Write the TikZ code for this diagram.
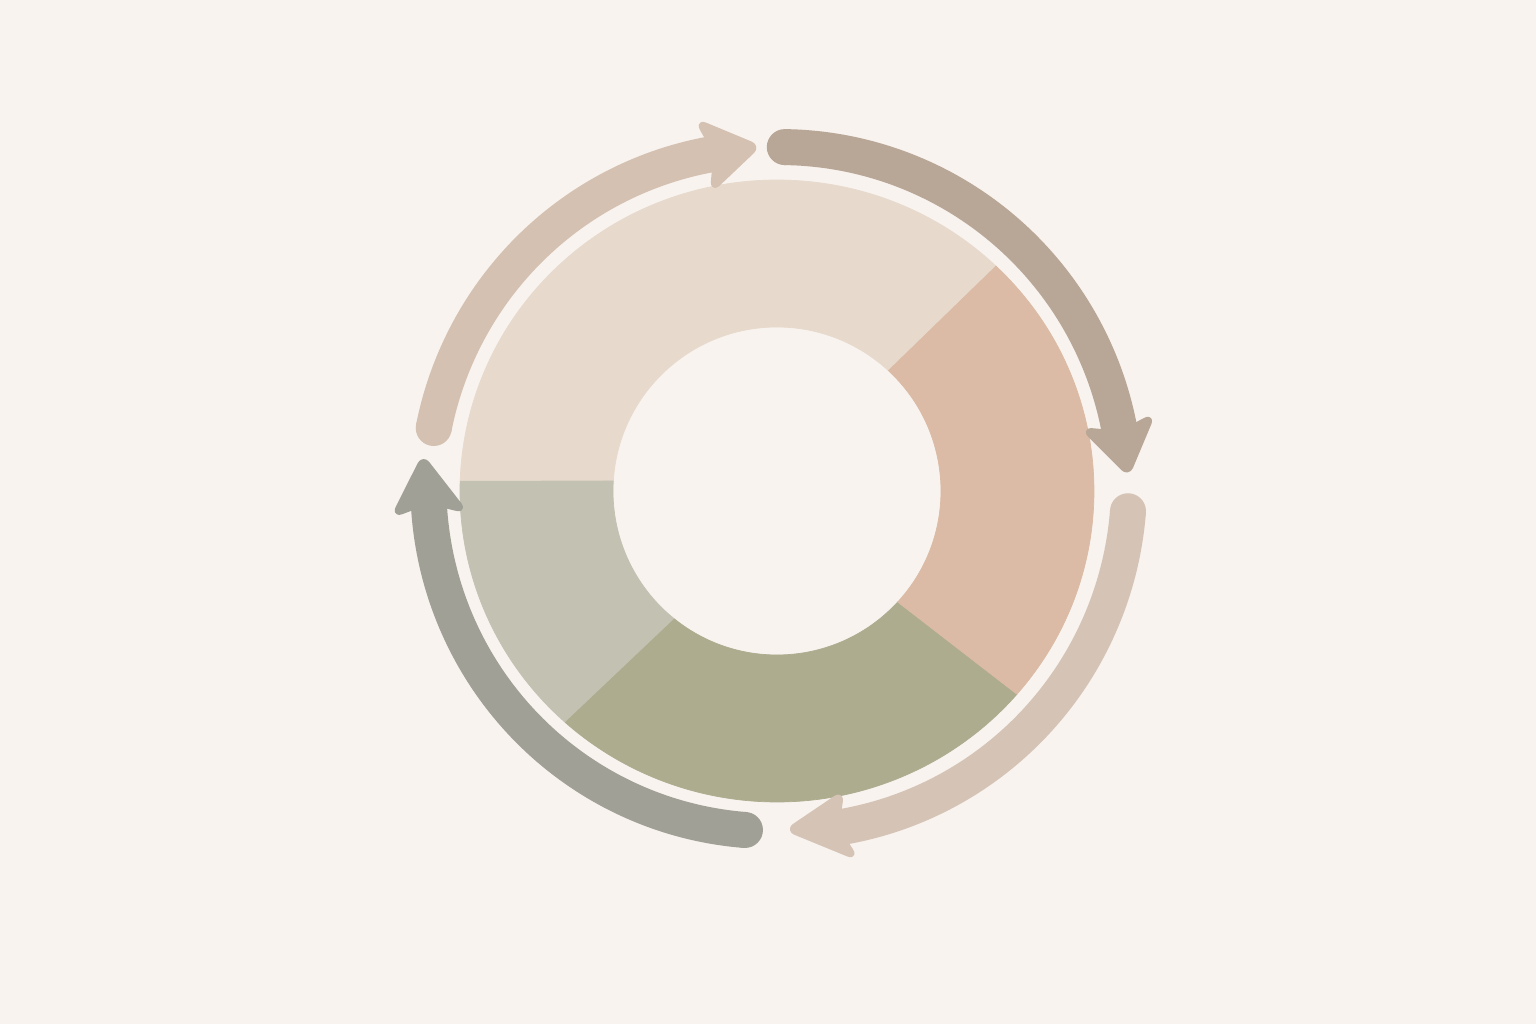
\documentclass[tikz,border=0pt]{standalone}
\definecolor{bg}{HTML}{F8F3EE}
\definecolor{ctop}{HTML}{E7DACD}
\definecolor{cright}{HTML}{DBBBA5}
\definecolor{cbottom}{HTML}{AEAC8F}
\definecolor{cleft}{HTML}{C3C2B2}
\definecolor{aone}{HTML}{D4C1B2}
\definecolor{atwo}{HTML}{B8A696}
\definecolor{athree}{HTML}{D5C4B6}
\definecolor{afour}{HTML}{A0A096}
\tikzset{
  seg/.style={line width=0.4pt, line join=round},
  shaft/.style={line width=0.72cm, line cap=butt},
  head/.style={line width=0.1cm, line join=round, rounded corners=0.14cm},
}
\begin{document}
\begin{tikzpicture}[x=0.02cm,y=0.02cm]
\fill[bg] (-777,-533) rectangle (759,491);
\useasboundingbox (-777,-533) rectangle (759,491);
% donut segments
\filldraw[seg, fill=ctop, draw=ctop] ({317*cos(46.3)},{311*sin(46.3)}) arc[start angle=46.3,end angle=178.2,x radius=317,y radius=311] -- (176.5:164) arc[start angle=176.5,end angle=47.2,radius=164] -- cycle;
\filldraw[seg, fill=cleft, draw=cleft] ({317*cos(178.2)},{311*sin(178.2)}) arc[start angle=178.2,end angle=228.1,x radius=317,y radius=311] -- (231.3:164) arc[start angle=231.3,end angle=176.5,radius=164] -- cycle;
\filldraw[seg, fill=cbottom, draw=cbottom] ({317*cos(228.1)},{311*sin(228.1)}) arc[start angle=228.1,end angle=319.2,x radius=317,y radius=311] -- (317.4:164) arc[start angle=317.4,end angle=231.3,radius=164] -- cycle;
\filldraw[seg, fill=cright, draw=cright] ({317*cos(319.2)},{311*sin(319.2)}) arc[start angle=319.2,end angle=406.3,x radius=317,y radius=311] -- (407.2:164) arc[start angle=407.2,end angle=317.4,radius=164] -- cycle;
% arrows
\foreach \sa/\sr/\ba/\br/\ta/\tr/\bo/\bi/\col [count=\i] in {
  169.6/349/102/343/93.3/345/377/309/aone,
  88.7/344/11.2/348/2.9/351.5/382/314/atwo,
  -3.3/351.6/-78/342/-88/339/374/310/athree,
  264.6/340.5/183.5/348.5/174.7/355.5/383/314/afour}{
  \pgfmathsetmacro\nang{\ba+0.2*(\ta-(\ba))}
  \pgfmathsetmacro\eang{\ba+0.26*(\ta-(\ba))}
  \coordinate (s\i) at (\sa:\sr);
  \coordinate (t\i) at (\ta:\tr);
  \coordinate (bo\i) at (\ba:\bo);
  \coordinate (bi\i) at (\ba:\bi);
  \coordinate (n\i) at (\nang:\br);
  \fill[color=\col] (s\i) circle[radius=18];
  \draw[shaft, color=\col] plot[domain=0:60, samples=61, smooth]
    ({\sa+(\eang-(\sa))*\x/60}:{\sr+(\br-(\sr))*\x/60});
  \filldraw[head, color=\col] (t\i) -- (bo\i) -- (n\i) -- (bi\i) -- cycle;
}
\end{tikzpicture}
\end{document}
